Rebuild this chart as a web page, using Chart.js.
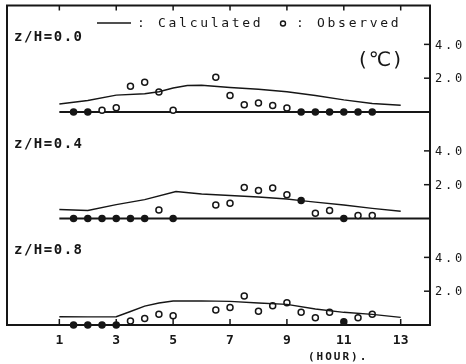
<!DOCTYPE html>
<html>
<head>
<meta charset="utf-8">
<script src="https://cdn.jsdelivr.net/npm/chart.js@4.4.1/dist/chart.umd.min.js"></script>
<style>
  html, body { margin: 0; padding: 0; background: #fff; }
</style>
</head>
<body>
<canvas id="chart" width="466" height="364"></canvas>
<script>
// eixos
const hourTicks = [1, 3, 5, 7, 9, 11, 13];
const tempTicks = [2, 4];
const tempLabels = ["2.0", "4.0"];
const panelLabels = ["z/H=0.0", "z/H=0.4", "z/H=0.8"];

// z/H = 0.0
const calcHours1 = [1, 2, 3, 4, 4.5, 5, 5.5, 6, 7, 8, 9, 10, 11, 12, 13];
const calcTemp1 = [0.47, 0.68, 1.0, 1.08, 1.2, 1.42, 1.57, 1.58, 1.45, 1.35, 1.2, 0.98, 0.72, 0.5, 0.4];
const obsHours1 = [1.5, 2, 2.5, 3, 3.5, 4, 4.5, 5, 6.5, 7, 7.5, 8, 8.5, 9, 9.5, 10, 10.5, 11, 11.5, 12];
const obsTemp1 = [0, 0, 0.1, 0.25, 1.53, 1.76, 1.18, 0.1, 2.06, 0.98, 0.43, 0.53, 0.39, 0.24, 0, 0, 0, 0, 0, 0];
const obsFilled1 = [1, 1, 0, 0, 0, 0, 0, 0, 0, 0, 0, 0, 0, 0, 1, 1, 1, 1, 1, 1];

// z/H = 0.4
const calcHours2 = [1, 2, 3, 4, 5.1, 6, 7, 8, 9, 9.5, 10, 11, 12, 13];
const calcTemp2 = [0.53, 0.47, 0.82, 1.12, 1.6, 1.45, 1.36, 1.27, 1.15, 1.06, 0.97, 0.8, 0.6, 0.43];
const obsHours2 = [1.5, 2, 2.5, 3, 3.5, 4, 4.5, 5, 6.5, 7, 7.5, 8, 8.5, 9, 9.5, 10, 10.5, 11, 11.5, 12];
const obsTemp2 = [0, 0, 0, 0, 0, 0, 0.51, 0, 0.8, 0.9, 1.84, 1.65, 1.8, 1.41, 1.06, 0.31, 0.47, 0, 0.18, 0.18];
const obsFilled2 = [1, 1, 1, 1, 1, 1, 0, 1, 0, 0, 0, 0, 0, 0, 1, 0, 0, 1, 0, 0];

// z/H = 0.8
const calcHours3 = [1, 2, 3, 3.5, 4, 4.5, 5, 6, 7, 8, 9, 10, 11, 12, 13];
const calcTemp3 = [0.49, 0.48, 0.49, 0.8, 1.12, 1.3, 1.42, 1.43, 1.4, 1.3, 1.22, 0.95, 0.75, 0.63, 0.45];
const obsHours3 = [1.5, 2, 2.5, 3, 3.5, 4, 4.5, 5, 6.5, 7, 7.5, 8, 8.5, 9, 9.5, 10, 10.5, 11, 11.5, 12];
const obsTemp3 = [0, 0, 0, 0, 0.24, 0.39, 0.63, 0.55, 0.88, 1.04, 1.72, 0.82, 1.14, 1.31, 0.75, 0.43, 0.75, 0.19, 0.43, 0.63];
const obsFilled3 = [1, 1, 1, 1, 0, 0, 0, 0, 0, 0, 0, 0, 0, 0, 0, 0, 0, 1, 0, 0];

const INK = "#161616";
const MONO = "'DejaVu Sans Mono', monospace";

function calcSet(hours, temps, axis) {
    return {
        label: "Calculated",
        data: hours.map((h, i) => ({ x: h, y: temps[i] })),
        yAxisID: axis,
        borderColor: INK,
        borderWidth: 1.4,
        pointRadius: 0,
        tension: 0,
        clip: false
    };
}

function obsSet(hours, temps, filled, axis) {
    return {
        label: "Observed",
        data: hours.map((h, i) => ({ x: h, y: temps[i] })),
        yAxisID: axis,
        showLine: false,
        pointRadius: 3,
        pointBorderWidth: 1.5,
        pointBorderColor: INK,
        pointBackgroundColor: filled.map(f => f ? INK : "#fff"),
        clip: false
    };
}

function panelAxis() {
    return {
        type: "linear",
        position: "right",
        stack: "panels",
        min: 0,
        max: 6.3,
        afterBuildTicks: s => { s.ticks = tempTicks.map(v => ({ value: v })); },
        afterFit: s => { s.width = 36; },
        grid: { display: false, drawTicks: false },
        border: { display: false },
        ticks: { display: false }
    };
}

// moldura, traços e textos
const decor = {
    id: "decor",
    beforeDatasetsDraw(chart) {
        const { ctx, chartArea: a, scales } = chart;
        const x = scales.x;
        const seg = (x1, y1, x2, y2) => { ctx.beginPath(); ctx.moveTo(x1, y1); ctx.lineTo(x2, y2); ctx.stroke(); };
        ctx.save();
        ctx.strokeStyle = INK;
        ctx.lineWidth = 2;
        ctx.strokeRect(a.left, a.top, a.right - a.left, a.bottom - a.top);
        ["y1", "y2"].forEach(id => {
            const py = scales[id].getPixelForValue(0);
            seg(x.getPixelForValue(1), py, a.right, py);
        });
        ctx.lineWidth = 1.5;
        hourTicks.forEach(h => {
            const px = x.getPixelForValue(h);
            seg(px, a.top, px, a.top + 5);
            seg(px, a.bottom, px, a.bottom - 6);
        });
        ["y1", "y2", "y3"].forEach(id => {
            tempTicks.forEach(v => {
                const py = scales[id].getPixelForValue(v);
                seg(a.right - 6, py, a.right, py);
            });
        });
        ctx.restore();
    },
    afterDraw(chart) {
        const { ctx, chartArea: a, scales } = chart;
        ctx.save();
        ctx.fillStyle = INK;
        ctx.strokeStyle = INK;

        // rótulos do eixo da direita
        ctx.font = "12px " + MONO;
        ctx.letterSpacing = "2.8px";
        ctx.textBaseline = "middle";
        ctx.textAlign = "left";
        ["y1", "y2", "y3"].forEach(id => {
            tempTicks.forEach((v, i) => {
                ctx.fillText(tempLabels[i], a.right + 5, scales[id].getPixelForValue(v) + 1);
            });
        });

        // z/H
        ctx.font = "bold 14px " + MONO;
        ctx.letterSpacing = "1.5px";
        ["y1", "y2", "y3"].forEach((id, i) => {
            ctx.fillText(panelLabels[i], a.left + 7, scales[id].getPixelForValue(4.4));
        });

        // legenda
        ctx.lineWidth = 1.4;
        ctx.beginPath(); ctx.moveTo(97, 23); ctx.lineTo(131, 23); ctx.stroke();
        ctx.font = "13px " + MONO;
        ctx.letterSpacing = "2.7px";
        ctx.textBaseline = "alphabetic";
        ctx.fillText(": Calculated", 137, 27);
        ctx.beginPath(); ctx.arc(283, 23.5, 2.5, 0, Math.PI * 2); ctx.stroke();
        ctx.fillText(": Observed", 296, 27);

        // unidade
        ctx.letterSpacing = "2px";
        ctx.font = "20px 'DejaVu Sans', sans-serif";
        ctx.textAlign = "center";
        ctx.fillText("(℃)", 381, 66);

        // título do eixo x
        ctx.font = "bold 11px " + MONO;
        ctx.letterSpacing = "2px";
        ctx.textAlign = "left";
        ctx.fillText("(HOUR).", 308, 360);
        ctx.restore();
    }
};

const ctx = document.getElementById("chart").getContext("2d");
const chart = new Chart(ctx, {
    type: "line",
    data: {
        datasets: [
            calcSet(calcHours1, calcTemp1, "y1"),
            obsSet(obsHours1, obsTemp1, obsFilled1, "y1"),
            calcSet(calcHours2, calcTemp2, "y2"),
            obsSet(obsHours2, obsTemp2, obsFilled2, "y2"),
            calcSet(calcHours3, calcTemp3, "y3"),
            obsSet(obsHours3, obsTemp3, obsFilled3, "y3")
        ]
    },
    options: {
        responsive: false,
        animation: false,
        layout: { padding: { left: 7, top: 4, right: 0, bottom: 0 } },
        plugins: { legend: { display: false }, tooltip: { enabled: false } },
        scales: {
            x: {
                type: "linear",
                min: -0.84,
                max: 14.03,
                afterBuildTicks: s => { s.ticks = hourTicks.map(v => ({ value: v })); },
                afterFit: s => { s.height = 39; },
                grid: { display: false, drawTicks: false },
                border: { display: false },
                ticks: {
                    color: INK,
                    font: { family: "DejaVu Sans Mono", size: 13, weight: "bold" },
                    padding: 8,
                    maxRotation: 0,
                    autoSkip: false
                }
            },
            y1: panelAxis(),
            y2: panelAxis(),
            y3: panelAxis()
        }
    },
    plugins: [decor]
});
</script>
</body>
</html>
